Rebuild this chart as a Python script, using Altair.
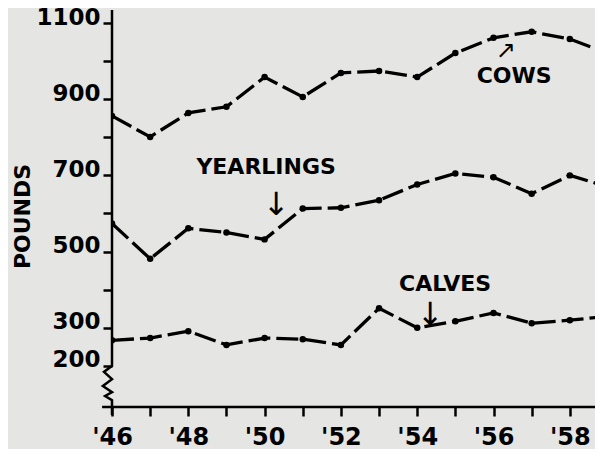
import altair as alt
import pandas as pd

years = list(range(46, 60))
cows = [856, 801, 864, 880, 958, 906, 969, 974, 958, 1021, 1061, 1077, 1058, 1020]
yearlings = [574, 481, 561, 550, 532, 613, 615, 635, 676, 705, 695, 652, 700, 670]
calves = [267, 273, 291, 255, 273, 270, 255, 351, 300, 317, 339, 312, 320, 330]

series_names = ["COWS", "YEARLINGS", "CALVES"]

label_text = ["YEARLINGS", "COWS", "CALVES"]
label_year = [50.04, 56.54, 54.73]
label_pounds = [722, 961, 415]

down_arrow_text = ["↓", "↓"]
down_arrow_year = [50.3, 54.34]
down_arrow_pounds = [622, 333]

up_arrow_text = ["↗"]
up_arrow_year = [56.32]
up_arrow_pounds = [1027]

# broken y-axis line (decoration, in data units)
axis_year = [46, 46, 45.79, 46, 45.76, 46, 45.82, 46, 46]
axis_pounds = [1134, 200, 184, 165, 147, 131, 121, 110, 71]
xaxis_year = [45.74, 58.66]
xaxis_pounds = [92, 92]

y_ticks = list(range(200, 1101, 100))
y_labels = [200, 300, 500, 700, 900, 1100]
x_ticks = list(range(46, 59))

rows = []
for name, vals in zip(series_names, [cows, yearlings, calves]):
    for yr, v in zip(years, vals):
        rows.append({"year": yr, "pounds": v, "series": name})
df = pd.DataFrame(rows)

lab = pd.DataFrame({"year": label_year, "pounds": label_pounds, "text": label_text})
darr = pd.DataFrame({"year": down_arrow_year, "pounds": down_arrow_pounds, "text": down_arrow_text})
uarr = pd.DataFrame({"year": up_arrow_year, "pounds": up_arrow_pounds, "text": up_arrow_text})
ax = pd.DataFrame({"year": axis_year, "pounds": axis_pounds, "idx": list(range(len(axis_year)))})
xax = pd.DataFrame({"year": xaxis_year, "pounds": xaxis_pounds})

xscale = alt.Scale(domain=[46, 58.66], nice=False, zero=False)
yscale = alt.Scale(domain=[92, 1100], nice=False, zero=False)

ylab_expr = "indexof(" + str(y_labels) + ", datum.value) >= 0 ? datum.value : ''"

base_x = alt.X("year:Q", scale=xscale,
               axis=alt.Axis(values=x_ticks, title=None, tickSize=9, domain=False, grid=False,
                             labelExpr="datum.value % 2 == 0 ? \"'\" + datum.value : ''",
                             labelFontSize=24, labelBaseline="bottom", labelPadding=33,
                             labelOverlap=False, labelFlush=False))
base_y = alt.Y("pounds:Q", scale=yscale,
               axis=alt.Axis(values=y_ticks, title="POUNDS", tickSize=9, domain=False, grid=False,
                             labelExpr=ylab_expr, labelFontSize=23,
                             labelBaseline="alphabetic", labelOffset=1, labelPadding=3,
                             labelOverlap=False, labelFlush=False,
                             titleFont="DejaVu Sans", titleFontWeight="bold",
                             titleFontSize=22, titleColor="black",
                             titleX=-90, titleY=193, titleAlign="center",
                             titleBaseline="middle", titleAngle=270))

sx = alt.X("year:Q", scale=xscale)
sy = alt.Y("pounds:Q", scale=yscale)

lines = alt.Chart(df).mark_line(color="black", strokeWidth=3.3, strokeDash=[22, 6], clip=True).encode(
    x=base_x, y=base_y, detail="series:N")

points = alt.Chart(df).mark_circle(color="black", size=42, opacity=1, clip=True).encode(x=sx, y=sy)

yaxis_line = alt.Chart(ax).mark_line(color="black", strokeWidth=2.5, clip=False).encode(
    x=sx, y=sy, order="idx:Q")

xaxis_line = alt.Chart(xax).mark_line(color="black", strokeWidth=2.5, clip=False).encode(x=sx, y=sy)

texts = alt.Chart(lab).mark_text(font="DejaVu Sans", fontWeight="bold", fontSize=22,
                                 color="black", align="center", baseline="middle").encode(
    x=sx, y=sy, text="text:N")

down_arrows = alt.Chart(darr).mark_text(font="DejaVu Sans", fontSize=32,
                                        color="black", align="center", baseline="middle").encode(
    x=sx, y=sy, text="text:N")

up_arrows = alt.Chart(uarr).mark_text(font="DejaVu Sans", fontSize=24,
                                      color="black", align="center", baseline="middle").encode(
    x=sx, y=sy, text="text:N")

chart = alt.layer(lines, points, yaxis_line, xaxis_line, texts, down_arrows, up_arrows).properties(
    width=483, height=384, background="#e5e5e3",
    padding={"left": 104, "top": 15, "right": 0, "bottom": 42},
    autosize=alt.AutoSizeParams(type="none"),
).configure_axis(
    labelFont="DejaVu Sans", labelFontWeight="bold", labelColor="black",
    tickColor="black", tickWidth=2.5,
).configure_view(stroke=None)

chart.save("out.html", embed_options={"renderer": "svg", "actions": False})
